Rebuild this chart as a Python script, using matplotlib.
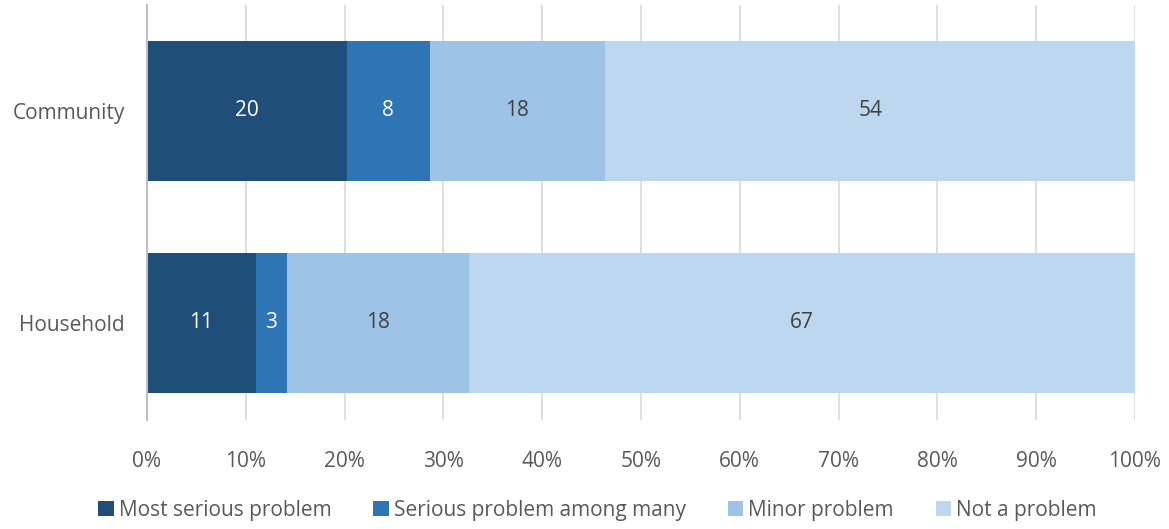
import numpy as np
import matplotlib.pyplot as plt

plt.rcParams['font.family'] = ['Open Sans', 'DejaVu Sans']

categories = ["Household", "Community"]
series = ["Most serious problem", "Serious problem among many", "Minor problem", "Not a problem"]
most_serious = [11.0, 20.2]
serious_many = [3.2, 8.4]
minor = [18.4, 17.8]
not_problem = [67.4, 53.6]
colors = ["#1F4E79", "#2E75B6", "#9DC3E6", "#BDD7EE"]
label_colors = ["white", "white", "#404040", "#404040"]

text_col = "#595959"
fig = plt.figure(figsize=(11.69, 5.29), dpi=100)
ax = fig.add_axes([0.1257, 0.206, 0.8452, 0.7845])

data = [most_serious, serious_many, minor, not_problem]
y = np.arange(len(categories))
left = np.zeros(len(categories))
handles = []
for vals, name, c, lc in zip(data, series, colors, label_colors):
    vals = np.array(vals)
    bars = ax.barh(y, vals, left=left, height=0.66, color=c, label=name, zorder=2)
    handles.append(bars)
    for yi, v, l in zip(y, vals, left):
        ax.text(l + v / 2, yi, f"{v:.0f}", ha="center", va="center",
                color=lc, fontsize=15, zorder=3)
    left += vals

ax.set_xlim(0, 100)
ax.set_ylim(-0.46, 1.5)
ax.set_xticks(np.arange(0, 101, 10))
ax.set_xticklabels([f"{t}%" for t in range(0, 101, 10)])
ax.set_yticks(y)
ax.set_yticklabels(categories)
ax.tick_params(axis="both", length=0, labelsize=15, colors=text_col)
ax.tick_params(axis="x", pad=22)
ax.tick_params(axis="y", pad=16)
ax.grid(axis="x", color="#D9D9D9", linewidth=1.2, zorder=0)
for s in ["top", "right", "bottom"]:
    ax.spines[s].set_visible(False)
ax.spines["left"].set_color("#BFBFBF")
ax.spines["left"].set_linewidth(1.5)

leg = fig.legend(handles=handles, loc="lower center", bbox_to_anchor=(0.511, -0.02),
                 ncol=4, frameon=False, fontsize=15, handlelength=0.75, handleheight=0.75,
                 handletextpad=0.25, columnspacing=2.0)
for t in leg.get_texts():
    t.set_color(text_col)

fig.savefig("out.png", dpi=100)
